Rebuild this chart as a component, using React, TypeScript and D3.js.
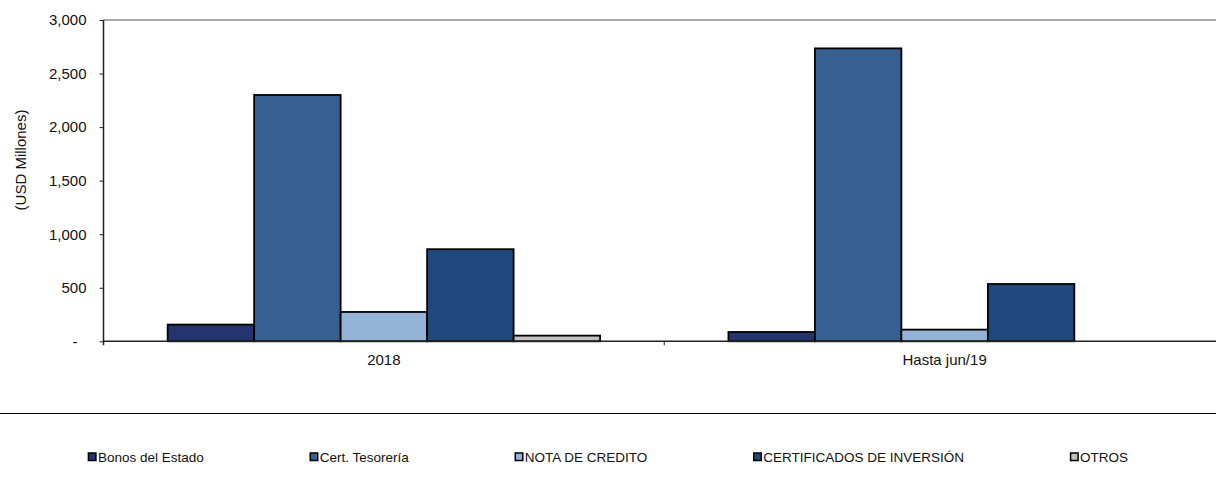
import React, { useRef, useEffect } from 'react';
import * as d3 from 'd3';

const categories = ['2018', 'Hasta jun/19'];
const seriesNames = [
  'Bonos del Estado',
  'Cert. Tesorería',
  'NOTA DE CREDITO',
  'CERTIFICADOS DE INVERSIÓN',
  'OTROS',
];
const bonosEstado = [156, 87];
const certTesoreria = [2300, 2735];
const notaCredito = [274, 109];
const certInversion = [860, 535];
const otros = [53, 0];
const seriesColors = ['#24346f', '#376092', '#95b3d7', '#1f497d', '#c0c0c0'];
const yTicks = [0, 500, 1000, 1500, 2000, 2500, 3000];

const App: React.FC = () => {
  const ref = useRef<SVGSVGElement | null>(null);

  useEffect(() => {
    const width = 1216;
    const height = 492;
    const left = 103.5;
    const right = 1225;
    const top = 20;
    const bottom = 341.3;
    const font = '"Liberation Sans", Arial, sans-serif';

    const values = [bonosEstado, certTesoreria, notaCredito, certInversion, otros];

    const svg = d3.select(ref.current);
    svg.selectAll('*').remove();
    svg.attr('width', width).attr('height', height);

    const x0 = d3.scaleBand().domain(categories).range([left, right]).padding(0);
    const x1 = d3
      .scaleBand()
      .domain(seriesNames)
      .range([0, x0.bandwidth()])
      .paddingInner(0)
      .paddingOuter(0.742);
    const y = d3.scaleLinear().domain([0, 3000]).range([bottom, top]);

    // top border of plot area
    svg.append('line')
      .attr('x1', left).attr('x2', right)
      .attr('y1', y(3000)).attr('y2', y(3000))
      .attr('stroke', '#888').attr('stroke-width', 1.5);

    // bars
    categories.forEach((cat, ci) => {
      const g = svg.append('g').attr('transform', `translate(${x0(cat)},0)`);
      seriesNames.forEach((s, si) => {
        const v = values[si][ci];
        if (v <= 0) return;
        g.append('rect')
          .attr('x', x1(s)!)
          .attr('y', y(v))
          .attr('width', x1.bandwidth())
          .attr('height', y(0) - y(v))
          .attr('fill', seriesColors[si])
          .attr('stroke', '#000')
          .attr('stroke-width', 1.8);
      });
    });

    // y axis
    const yAxis = d3
      .axisLeft(y)
      .tickValues(yTicks)
      .tickSize(4)
      .tickSizeOuter(0)
      .tickPadding(13)
      .tickFormat((d) => (+d === 0 ? '-' : d3.format(',')(+d)));
    const yg = svg.append('g').attr('transform', `translate(${left},0)`).call(yAxis);
    yg.select('.domain').attr('stroke', '#222').attr('stroke-width', 1.5)
      .attr('d', `M0,${y(3000)}V${y(0) + 4}`);
    yg.selectAll('.tick line').attr('stroke', '#222');
    yg.selectAll('.tick text')
      .attr('font-family', font)
      .attr('font-size', 15)
      .attr('fill', '#111')
      .attr('dx', (d: any) => (+d === 0 ? -9 : 0));

    // x axis
    svg.append('line')
      .attr('x1', left).attr('x2', right)
      .attr('y1', y(0)).attr('y2', y(0))
      .attr('stroke', '#222').attr('stroke-width', 1.5);
    categories.slice(0, -1).forEach((cat) => {
      const bx = x0(cat)! + x0.bandwidth();
      svg.append('line')
        .attr('x1', bx).attr('x2', bx)
        .attr('y1', y(0)).attr('y2', y(0) + 4)
        .attr('stroke', '#222');
    });
    svg.append('g')
      .selectAll('text')
      .data(categories)
      .join('text')
      .attr('x', (d) => x0(d)! + x0.bandwidth() / 2)
      .attr('y', y(0) + 24)
      .attr('text-anchor', 'middle')
      .attr('font-family', font)
      .attr('font-size', 15)
      .attr('fill', '#111')
      .text((d) => d);

    // y title
    svg.append('text')
      .attr('transform', `translate(26,160) rotate(-90)`)
      .attr('text-anchor', 'middle')
      .attr('font-family', font)
      .attr('font-size', 15)
      .attr('fill', '#111')
      .text('(USD Millones)');

    // legend separator
    svg.append('line')
      .attr('x1', 0).attr('x2', width)
      .attr('y1', 413.5).attr('y2', 413.5)
      .attr('stroke', '#000').attr('stroke-width', 1);

    // legend
    const legendY = 457;
    const gap = 106;
    const lg = svg.append('g');
    const items = seriesNames.map((s, i) => {
      const item = lg.append('g');
      item.append('rect')
        .attr('x', 0.5).attr('y', legendY - 4)
        .attr('width', 7.5).attr('height', 7.5)
        .attr('fill', seriesColors[i])
        .attr('stroke', '#000').attr('stroke-width', 1.5);
      const t = item.append('text')
        .attr('x', 10)
        .attr('y', legendY + 5)
        .attr('font-family', font)
        .attr('font-size', 13.5)
        .attr('fill', '#111')
        .text(s);
      const w = 10 + (t.node() as SVGTextElement).getComputedTextLength();
      return { item, w };
    });
    const total = d3.sum(items, (d) => d.w) + gap * (items.length - 1);
    let cx = width / 2 - total / 2;
    items.forEach(({ item, w }) => {
      item.attr('transform', `translate(${cx},0)`);
      cx += w + gap;
    });
  }, []);

  return (
    <div style={{ position: 'absolute', left: 0, top: 0 }}>
      <svg ref={ref} style={{ display: 'block', background: '#fff' }} />
    </div>
  );
};

export default App;
